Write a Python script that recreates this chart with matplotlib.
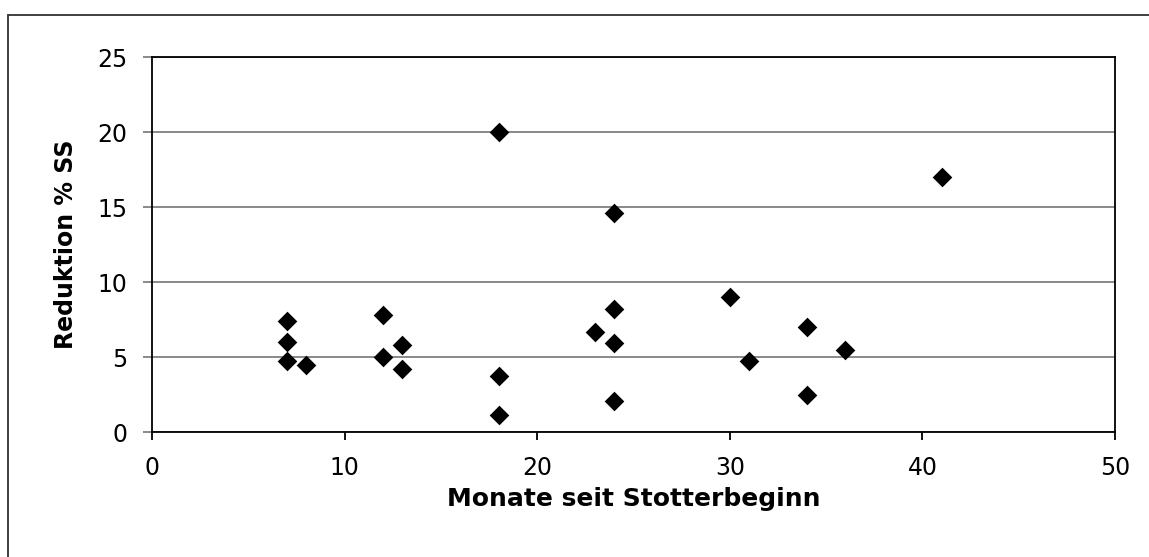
import matplotlib
matplotlib.use('Agg')
import matplotlib.pyplot as plt
from matplotlib.patches import Rectangle

plt.rcParams['font.family'] = ['DejaVu Sans']

# Data
months = [7, 7, 7, 8, 12, 12, 13, 13, 18, 18, 18, 23, 24, 24, 24, 24, 30, 31, 34, 34, 36, 41]
reduction = [7.4, 6.0, 4.75, 4.45, 7.8, 5.0, 5.8, 4.2, 20.0, 3.75, 1.15, 6.7,
             14.6, 8.2, 5.95, 2.05, 9.0, 4.75, 7.0, 2.5, 5.45, 17.0]
x_ticks = [0, 10, 20, 30, 40, 50]
y_ticks = [0, 5, 10, 15, 20, 25]


def main():
    fig = plt.figure(figsize=(11.49, 5.57), dpi=100)
    ax = fig.add_axes([0.1323, 0.2244, 0.8381, 0.6724])

    # outer frame (only top/left visible in the original)
    fig.patches.append(Rectangle((8 / 1149, -0.1), 1.2, (557 - 15) / 557 + 0.1,
                                 transform=fig.transFigure, fill=False,
                                 edgecolor='#303030', linewidth=1.3, clip_on=False))

    ax.scatter(months, reduction, marker='D', s=100, color='black', zorder=3,
               linewidths=0)

    ax.set_xlim(0, 50)
    ax.set_ylim(0, 25)
    ax.set_xticks(x_ticks)
    ax.set_yticks(y_ticks)
    ax.yaxis.grid(True, color='#808080', linewidth=1.3)
    ax.set_axisbelow(True)

    for sp in ax.spines.values():
        sp.set_color('black')
        sp.set_linewidth(1.3)

    ax.tick_params(axis='y', direction='out', length=6.5, width=1.3,
                   color='#808080', labelsize=17, pad=11)
    ax.tick_params(axis='x', direction='out', length=6, width=1.3,
                   color='black', labelsize=17, pad=11)

    ax.set_xlabel('Monate seit Stotterbeginn', fontsize=18, fontweight='bold',
                  labelpad=5)
    ax.set_ylabel('Reduktion % SS', fontsize=17, fontweight='bold',
                  labelpad=14)

    fig.savefig('out.png', dpi=100, facecolor='white')


if __name__ == "__main__":
    main()
